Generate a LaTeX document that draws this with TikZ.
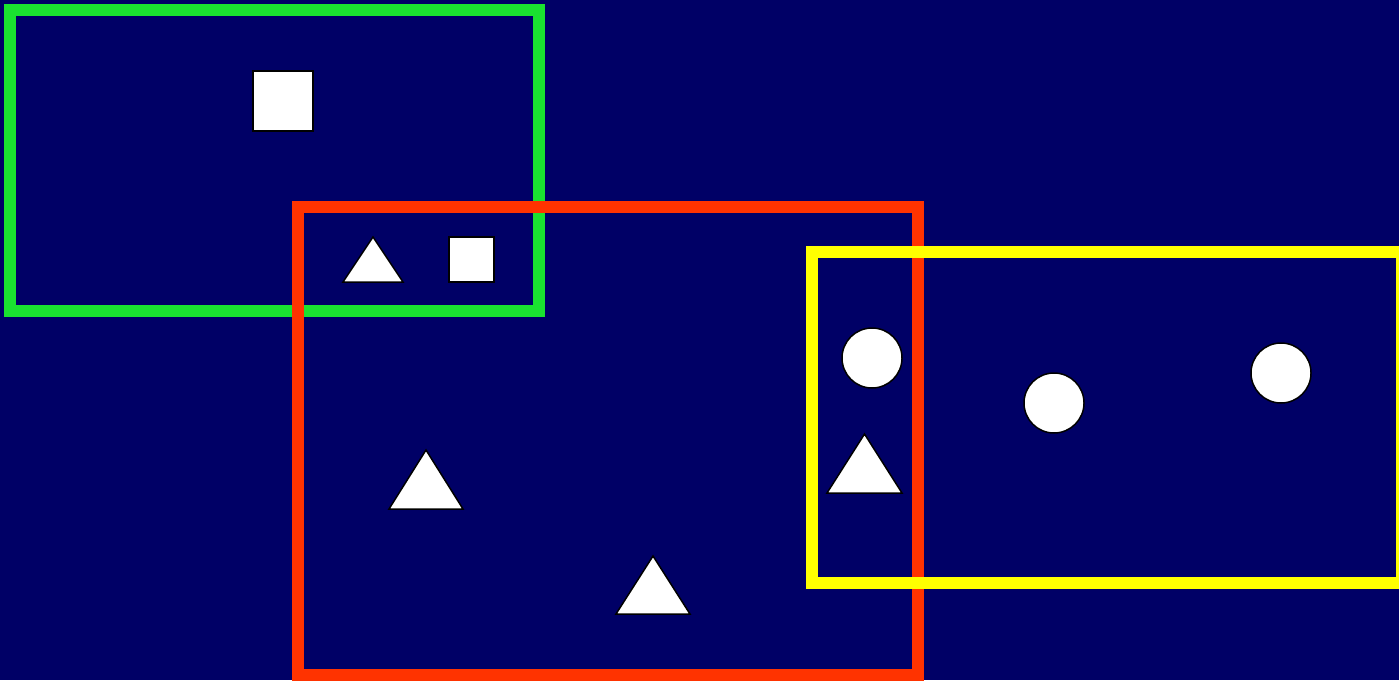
\documentclass[tikz,border=0pt]{standalone}
\definecolor{bgnavy}{RGB}{0,0,102}
\definecolor{fgreen}{RGB}{26,226,48}
\definecolor{fred}{RGB}{255,51,0}
\definecolor{fyellow}{RGB}{255,255,0}
\begin{document}
\begin{tikzpicture}[x=1pt,y=-1pt,
  frame/.style={line width=12pt},
  shp/.style={fill=white,draw=black,line width=1.5pt}]
\useasboundingbox (0,0) rectangle (1399,680);
\clip (0,0) rectangle (1399,680);
\fill[bgnavy] (0,0) rectangle (1399,680);
% frames
\draw[frame,fgreen] (10,10) rectangle (539,311);
\draw[frame,fred] (298,207) rectangle (918,675);
\draw[frame,fyellow] (812,252) rectangle (1402,583);
% squares
\draw[shp] (253,71) rectangle (313,131);
\draw[shp] (449,237) rectangle (494,282);
% triangles
\draw[shp] (373,237) -- (403,282) -- (343,282) -- cycle;
\draw[shp] (426,450) -- (463,509) -- (389,509) -- cycle;
\draw[shp] (653,556) -- (690,614) -- (616,614) -- cycle;
\draw[shp] (864.5,434) -- (902,493) -- (827,493) -- cycle;
% circles
\draw[shp] (872,358) circle (30);
\draw[shp] (1054,403) circle (30);
\draw[shp] (1281,373) circle (30);
\end{tikzpicture}
\end{document}
